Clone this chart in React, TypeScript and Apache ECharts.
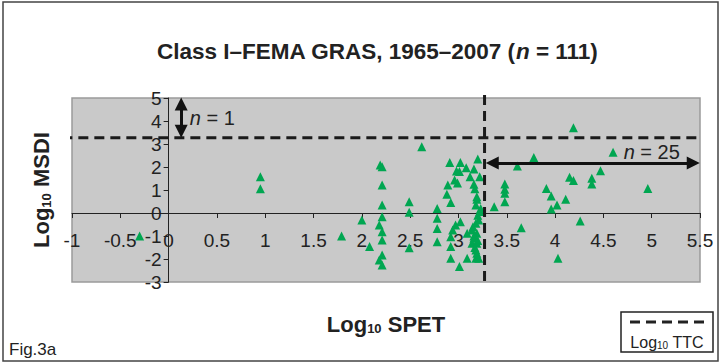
import React, { useEffect, useRef } from "react";
import * as echarts from "echarts";

// Log10 SPET (x) vs Log10 MSDI (y)
const spet: number[] = [
  -0.3, 0.95, 0.95, 1.79,
  2.0, 2.08,
  2.19, 2.21, 2.21, 2.21, 2.21, 2.18, 2.21, 2.21, 2.21, 2.18, 2.21,
  2.49, 2.49, 2.49,
  2.62,
  2.78, 2.78, 2.78, 2.78,
  2.91, 3.02, 3.2, 3.08, 3.16, 2.98, 3.12, 3.22, 2.96, 2.89, 3.16, 2.88, 2.92, 3.19, 3.18, 3.23, 3.37,
  2.99, 3.01, 3.17, 3.19,
  3.22, 2.97, 3.02, 2.94, 2.92, 2.92, 2.92, 3.01, 3.09, 3.18, 3.09, 3.14, 3.18, 3.16, 3.19, 3.14, 3.18, 3.19, 3.21, 3.16, 3.2, 3.17, 3.19, 3.21, 3.15, 3.2,
  3.48, 3.48, 3.48, 3.48, 3.61, 3.65, 3.78, 3.91, 3.96, 3.96, 4.02, 4.03, 4.11, 4.15, 4.19, 4.19, 4.26, 4.38, 4.38, 4.47, 4.6, 4.96,
];
const msdi: number[] = [
  -1.0, 1.58, 1.05, -1.0,
  -0.3, -1.46,
  2.09, 2.01, 1.22, 0.35, -0.16, -0.52, -0.81, -1.17, -1.83, -2.04, -2.26,
  0.49, 0.03, -1.51,
  2.88,
  0.2, -0.23, -0.67, -1.25,
  2.2, 2.2, 2.35, 1.97, 1.91, 1.83, 1.58, 1.58, 1.43, 1.22, 1.25, 0.81, 0.46, 0.71, 0.35, 0.2, 0.27,
  1.3, 1.8, 1.05, 0.6,
  0.06, -0.52, -0.38, -0.74, -1.03, -1.46, -1.97, -2.33, -1.97, -1.97, -0.88, -0.74, -0.45, -1.1, -1.32, -1.32, -1.61, -0.88, -0.3, -1.0, -1.2, -1.5, -1.75, -1.97, -0.6, -0.1,
  1.26, 1.03, 0.86, 0.49, 2.04, -0.64, 2.41, 1.07, 0.74, 0.17, 0.35, -1.97, 0.6, 1.55, 1.41, 3.71, -0.35, 1.51, 1.26, 1.84, 2.64, 1.07,
];

const logTTC = 3.27;
const xTicks = { min: -1, max: 5.5, interval: 0.5 };
const yTicks = { min: -3, max: 5, interval: 1 };
const annotations: [number, number, string][] = [
  [0.22, 4.13, "1"],
  [4.71, 2.65, "25"],
];
const titleText = "Class I–FEMA GRAS, 1965–2007 ";

const FONT = "Liberation Sans, Arial, sans-serif";
const GRID = { left: 72, right: 22, top: 98, bottom: 82 };
const W = 722;
const H = 364;

export default function App() {
  const ref = useRef<HTMLDivElement>(null);
  useEffect(() => {
    document.body.style.margin = "0";
    if (!ref.current) return;
    const chart = echarts.init(ref.current, null, { renderer: "svg" });
    const points = spet.map((x, i) => [x, msdi[i]]);
    const arrowSym = ["triangle", "triangle"];
    const nameRich = {
      a: { fontSize: 22, fontWeight: "bold", color: "#222", lineHeight: 26, verticalAlign: "bottom", fontFamily: FONT },
      s: { fontSize: 13, fontWeight: "bold", color: "#222", lineHeight: 20, verticalAlign: "bottom", fontFamily: FONT },
    };
    chart.setOption({
      animation: false,
      backgroundColor: "#ffffff",
      textStyle: { fontFamily: FONT },
      title: {
        text: `{b|${titleText}(}{i|n}{b| = 111)}`,
        left: 152,
        top: 35,
        textStyle: {
          rich: {
            b: { fontSize: 22.5, fontWeight: "bold", color: "#222", fontFamily: FONT },
            i: { fontSize: 22.5, fontWeight: "bold", fontStyle: "italic", color: "#222", fontFamily: FONT },
          },
        },
      },
      grid: {
        ...GRID,
        outerBoundsMode: "none",
        containLabel: false,
        show: true,
        backgroundColor: "#c9c9c9",
        borderColor: "#9a9a9a",
        borderWidth: 1.5,
      },
      xAxis: {
        type: "value",
        min: xTicks.min,
        max: xTicks.max,
        interval: xTicks.interval,
        name: "{a|Log}{s|10}{a| SPET}",
        nameLocation: "middle",
        nameGap: 96,
        nameTextStyle: { rich: nameRich },
        axisLine: { onZero: false, lineStyle: { color: "#222", width: 1 } },
        axisTick: { show: true, length: 5, lineStyle: { color: "#222" } },
        axisLabel: { fontSize: 19, color: "#222", margin: 18, fontFamily: FONT },
        splitLine: { show: false },
      },
      yAxis: {
        type: "value",
        min: yTicks.min,
        max: yTicks.max,
        interval: yTicks.interval,
        name: "{a|Log}{s|10}{a| MSDI}",
        nameLocation: "middle",
        nameGap: 116,
        nameRotate: 90,
        nameTextStyle: { rich: nameRich },
        axisLine: { onZero: false, lineStyle: { color: "#222", width: 1 } },
        axisTick: { show: true, length: 5, lineStyle: { color: "#222" } },
        axisLabel: { fontSize: 19, color: "#222", margin: 7, fontFamily: FONT },
        splitLine: { show: false },
      },
      series: [
        {
          name: "Substances",
          type: "scatter",
          symbol: "triangle",
          symbolSize: 9,
          itemStyle: { color: "#00a651", opacity: 1 },
          data: points,
          markLine: {
            silent: true,
            symbol: arrowSym,
            symbolSize: 13,
            label: { show: false },
            lineStyle: { color: "#111", width: 3, type: "solid", opacity: 1 },
            data: [
              [{ coord: [0.13, 4.74] }, { coord: [0.13, 3.55] }],
              [{ coord: [logTTC + 0.08, 2.17] }, { coord: [5.43, 2.17] }],
            ],
          },
        },
        {
          name: "Log10 TTC",
          type: "line",
          symbol: "none",
          clip: false,
          silent: true,
          lineStyle: { color: "#1a1a1a", width: 3, type: [10, 6] },
          data: [
            [xTicks.min - 0.1, logTTC],
            [xTicks.max + 0.09, logTTC],
          ],
        },
        {
          name: "Log10 TTC v",
          type: "line",
          symbol: "none",
          clip: false,
          silent: true,
          lineStyle: { color: "#1a1a1a", width: 3, type: [10, 6] },
          data: [
            [logTTC, yTicks.max + 0.13],
            [logTTC, yTicks.min - 0.13],
          ],
        },
        {
          name: "annotations",
          type: "scatter",
          symbolSize: 0,
          silent: true,
          itemStyle: { opacity: 1 },
          data: annotations.map((a) => ({ value: [a[0], a[1]], n: a[2] })),
          label: {
            show: true,
            position: "right",
            distance: 0,
            color: "#222",
            opacity: 1,
            formatter: (p: any) => `{i|n}{t| = ${p.data.n}}`,
            rich: {
              i: { fontSize: 20, fontStyle: "italic", color: "#222", fontFamily: FONT },
              t: { fontSize: 20, color: "#222", fontFamily: FONT },
            },
          },
        },
      ],
      graphic: [
        {
          type: "rect",
          shape: { x: 3, y: 2, width: 715, height: 359 },
          style: { fill: "none", stroke: "#444", lineWidth: 1.5 },
          silent: true,
        },
        {
          type: "rect",
          shape: { x: 621, y: 312, width: 92, height: 40 },
          style: { fill: "#fff", stroke: "#222", lineWidth: 1.5 },
          silent: true,
        },
        {
          type: "line",
          shape: { x1: 630, y1: 322, x2: 706, y2: 322 },
          style: { stroke: "#222", lineWidth: 3, lineDash: [10, 6] },
          silent: true,
        },
        {
          type: "text",
          x: 667,
          y: 341,
          style: {
            text: "{a|Log}{s|10}{a| TTC}",
            align: "center",
            verticalAlign: "middle",
            rich: {
              a: { fontSize: 16, fill: "#222", fontFamily: FONT, lineHeight: 19, verticalAlign: "bottom" },
              s: { fontSize: 10, fill: "#222", fontFamily: FONT, lineHeight: 14, verticalAlign: "bottom" },
            },
          },
          silent: true,
        },
        {
          type: "text",
          x: 9,
          y: 341,
          style: { text: "Fig.3a", fontSize: 17, fill: "#222", fontFamily: FONT },
          silent: true,
        },
      ],
    });
    // Place both axes (line, ticks, labels) so that they cross at (0, 0), as in the reference
    const zero = chart.convertToPixel({ gridIndex: 0 }, [0, 0]) as number[];
    chart.setOption({
      xAxis: { offset: zero[1] - (H - GRID.bottom) },
      yAxis: { offset: GRID.left - zero[0] },
    });
    return () => chart.dispose();
  }, []);
  return (
    <div
      ref={ref}
      style={{ position: "absolute", left: 0, top: 0, width: W, height: H }}
    />
  );
}
